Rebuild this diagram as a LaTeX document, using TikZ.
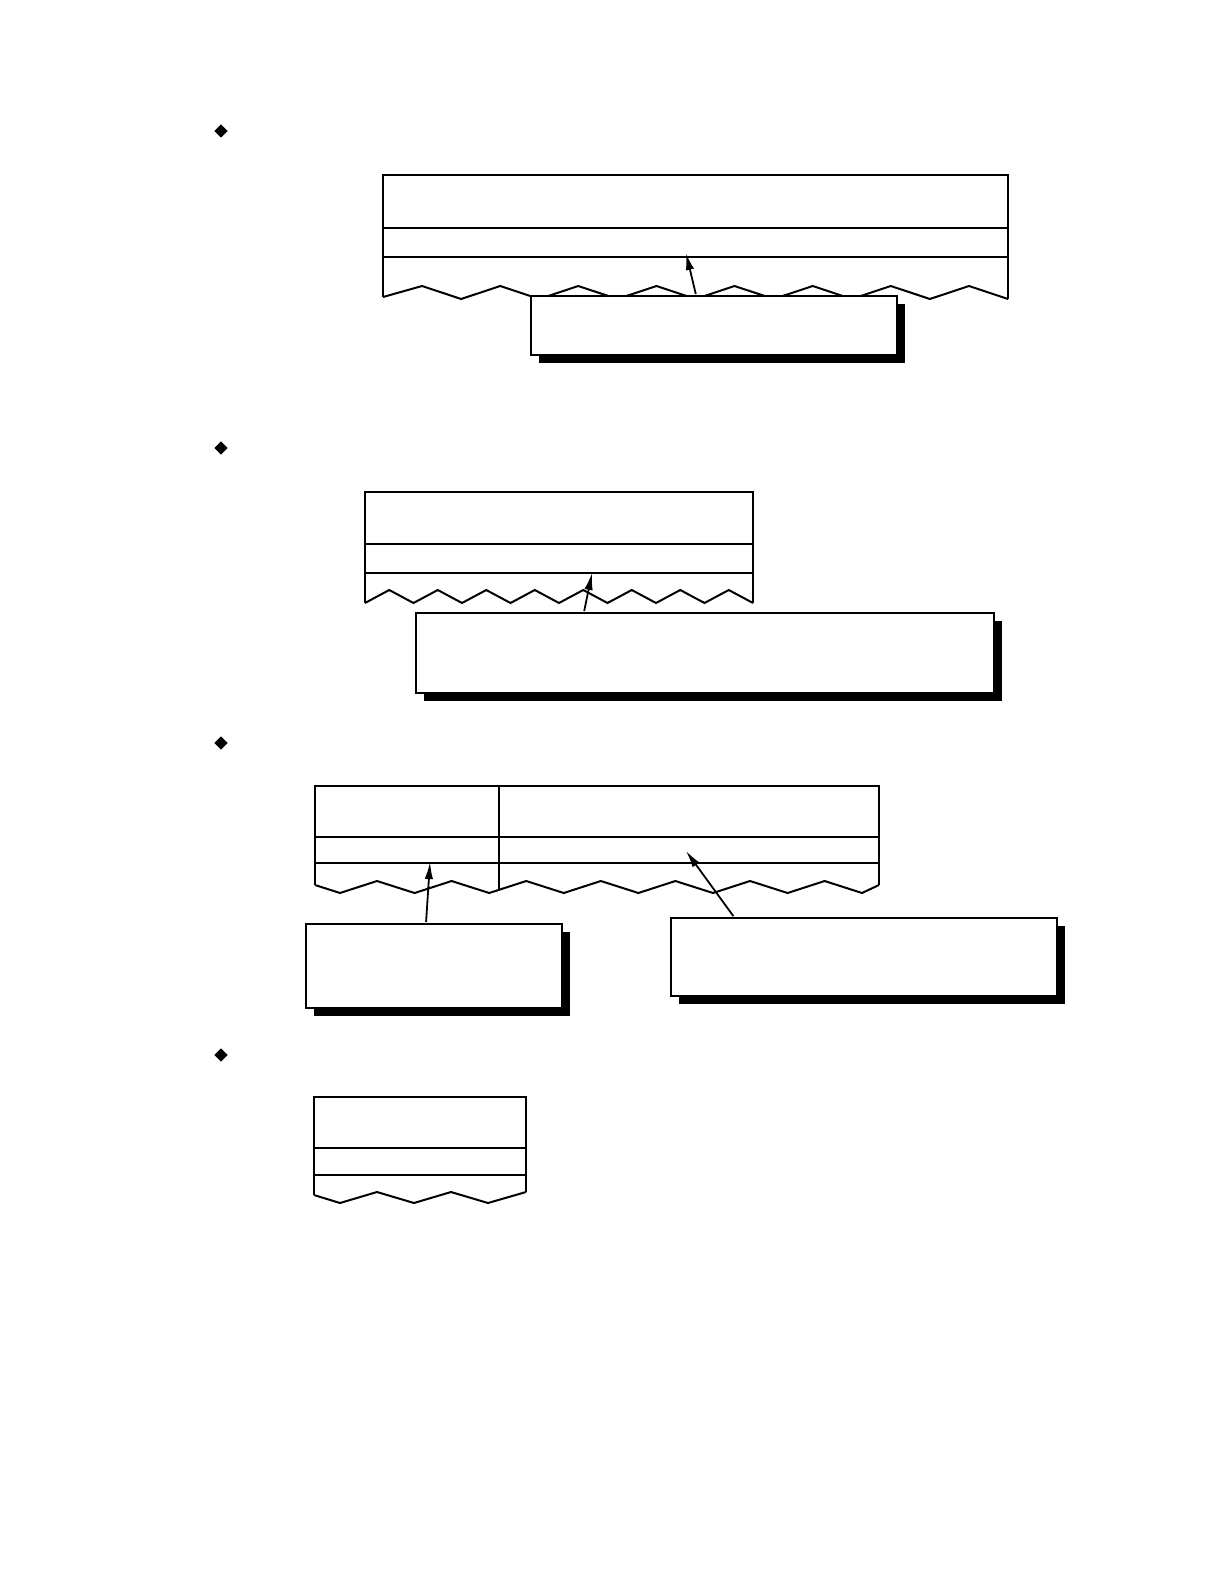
\documentclass[tikz,border=0pt]{standalone}
\usetikzlibrary{shapes.geometric,arrows.meta,shadows}
\tikzset{
  sheet/.style={x=0.5pt,y=-0.5pt,line width=1pt,line join=miter},
  bullet/.style={diamond,fill=black,inner sep=0pt,minimum size=7pt},
  callout/.style={draw,fill=white,line width=1pt,anchor=north west,inner sep=0pt,
    drop shadow={shadow xshift=3.8pt,shadow yshift=-3.8pt,fill=black,opacity=1}},
  pointer/.style={-{Latex[length=8.5pt,width=4.2pt]},line width=0.9pt,shorten <=0.5pt}
}
\begin{document}
\begin{tikzpicture}[sheet]
  \useasboundingbox (0,0) rectangle (1224,1584);
  % bullets
  \node[bullet] (d1) at (221,131) {};
  \node[bullet] (d2) at (221,448) {};
  \node[bullet] (d3) at (221,743) {};
  \node[bullet] (d4) at (221,1055) {};

  % first record
  \def\xa{383}\def\xb{1008}\def\w{78.125}
  \draw (\xa,297) -- (\xa,175) -- (\xb,175) -- (\xb,299);
  \draw (\xa,228) -- (\xb,228);
  \draw (\xa,257) -- (\xb,257);
  \draw (\xa,297) \foreach \i in {1,...,8} { -- ({\xa+(\i-0.5)*\w},286) -- ({\xa+\i*\w},299) };
  \coordinate (t1) at (686,253);
  \node[callout,minimum width=183pt,minimum height=29.5pt] (c1) at (530,295) {};
  \draw[pointer] (c1.north west) ++(166,0) coordinate (s1) (s1) -- (t1);

  % second record
  \def\xa{365}\def\xb{753}\def\w{48.5}
  \draw (\xa,603) -- (\xa,492) -- (\xb,492) -- (\xb,603);
  \draw (\xa,544) -- (\xb,544);
  \draw (\xa,573) -- (\xb,573);
  \draw (\xa,603) \foreach \i in {1,...,8} { -- ({\xa+(\i-0.5)*\w},590) -- ({\xa+\i*\w},603) };
  \coordinate (t2) at (592,573);
  \node[callout,minimum width=289pt,minimum height=40pt] (c2) at (415,612) {};
  \draw[pointer] (c2.north west) ++(169,0) coordinate (s2) (s2) -- (t2);

  % third record
  \def\xa{315}\def\xb{879}\def\w{74.6}
  \draw (\xa,885) -- (\xa,786) -- (\xb,786) -- (\xb,885);
  \draw (\xa,837) -- (\xb,837);
  \draw (\xa,863) -- (\xb,863);
  \draw (499,786) -- (499,890);
  \draw (\xa,885) \foreach \i in {0,...,6} { -- ({340+\i*\w},893) -- ({377+\i*\w},881) } -- (862,893) -- (\xb,885);
  \coordinate (t3) at (430,862);
  \coordinate (t4) at (686,851);
  \node[callout,minimum width=128pt,minimum height=42pt] (c3) at (305,923) {};
  \node[callout,minimum width=193pt,minimum height=39pt] (c4) at (670,917) {};
  \draw[pointer] (c3.north west) ++(121,0) coordinate (s3) (s3) -- (t3);
  \draw[pointer] (c4.north west) ++(64,0) coordinate (s4) (s4) -- (t4);

  % fourth record
  \def\xa{314}\def\xb{526}\def\w{74}
  \draw (\xa,1195) -- (\xa,1097) -- (\xb,1097) -- (\xb,1192);
  \draw (\xa,1148) -- (\xb,1148);
  \draw (\xa,1175) -- (\xb,1175);
  \draw (\xa,1195) \foreach \i in {0,1} { -- ({340+\i*\w},1203) -- ({377+\i*\w},1192) } -- (488,1203) -- (\xb,1192);
\end{tikzpicture}
\end{document}
